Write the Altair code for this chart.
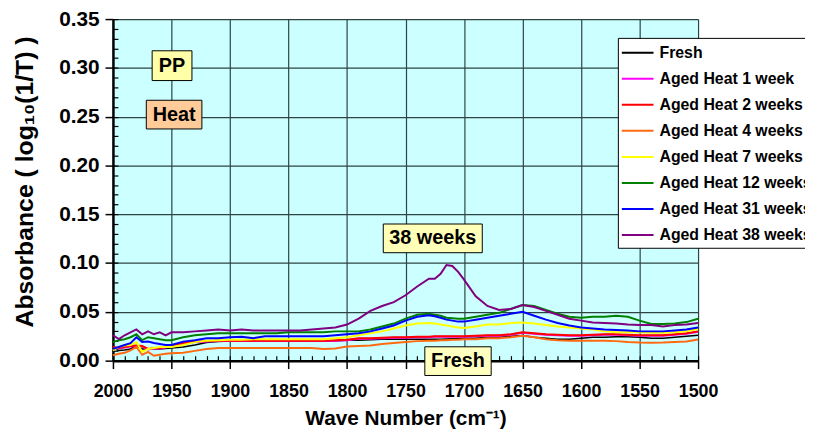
import altair as alt
import pandas as pd

wavenumber = [2000, 1995, 1990, 1985, 1980, 1975, 1970, 1965, 1960, 1955, 1950,
              1940, 1930, 1920, 1910, 1900, 1890, 1880, 1870, 1860, 1850, 1840,
              1830, 1820, 1810, 1800, 1790, 1780, 1770, 1760, 1750, 1740, 1730,
              1725, 1720, 1715, 1710, 1705, 1700,
              1690, 1680, 1670, 1660, 1650, 1640, 1630, 1620, 1610, 1600, 1590,
              1580, 1570, 1560, 1550, 1540, 1530, 1520, 1510, 1500]

fresh = [0.013, 0.0105, 0.011, 0.012, 0.0155, 0.012, 0.012, 0.012, 0.012, 0.0125, 0.013,
         0.014, 0.016, 0.0185, 0.0195, 0.020, 0.0198, 0.020, 0.020, 0.020, 0.020, 0.020,
         0.020, 0.020, 0.0205, 0.021, 0.021, 0.0215, 0.022, 0.022, 0.022, 0.022, 0.022,
         0.022, 0.022, 0.0222, 0.0225, 0.0228, 0.023,
         0.023, 0.024, 0.024, 0.025, 0.0257, 0.024, 0.023, 0.022, 0.022, 0.023, 0.024,
         0.024, 0.0245, 0.0245, 0.024, 0.023, 0.023, 0.024, 0.025, 0.026]

heat_1w = [0.0135, 0.0125, 0.0135, 0.0145, 0.015, 0.0145, 0.0115, 0.0125, 0.0125, 0.0135, 0.015,
           0.0175, 0.019, 0.0195, 0.020, 0.020, 0.020, 0.020, 0.020, 0.020, 0.020, 0.020,
           0.020, 0.020, 0.0205, 0.021, 0.0225, 0.0225, 0.023, 0.0235, 0.0235, 0.024, 0.024,
           0.0245, 0.0245, 0.0245, 0.0245, 0.0245, 0.0245,
           0.025, 0.0255, 0.0255, 0.0265, 0.0285, 0.0275, 0.0265, 0.026, 0.0255, 0.0255, 0.026,
           0.0265, 0.0265, 0.026, 0.0255, 0.0255, 0.0255, 0.0265, 0.0275, 0.0295]

heat_2w = [0.014, 0.013, 0.014, 0.015, 0.0155, 0.015, 0.012, 0.013, 0.013, 0.014, 0.0155,
           0.018, 0.0195, 0.020, 0.0205, 0.0205, 0.0205, 0.0205, 0.0205, 0.0205, 0.0205, 0.0205,
           0.0205, 0.0205, 0.021, 0.0215, 0.023, 0.023, 0.0235, 0.024, 0.024, 0.0245, 0.0245,
           0.025, 0.025, 0.025, 0.025, 0.025, 0.025,
           0.0255, 0.026, 0.026, 0.027, 0.029, 0.028, 0.027, 0.0265, 0.026, 0.026, 0.0265,
           0.027, 0.027, 0.0265, 0.026, 0.026, 0.026, 0.027, 0.028, 0.030]

heat_4w = [0.0055, 0.007, 0.008, 0.0105, 0.014, 0.006, 0.009, 0.005, 0.006, 0.007, 0.0075,
           0.008, 0.010, 0.012, 0.013, 0.013, 0.013, 0.013, 0.013, 0.013, 0.013, 0.013,
           0.013, 0.012, 0.0125, 0.0145, 0.015, 0.0155, 0.017, 0.018, 0.019, 0.020, 0.0205,
           0.0205, 0.021, 0.021, 0.0215, 0.0215, 0.022,
           0.022, 0.023, 0.023, 0.024, 0.0255, 0.024, 0.022, 0.021, 0.0205, 0.0205, 0.0205,
           0.0205, 0.020, 0.019, 0.0185, 0.0183, 0.0185, 0.019, 0.0196, 0.0216]

heat_7w = [0.0105, 0.014, 0.0155, 0.016, 0.019, 0.009, 0.012, 0.013, 0.014, 0.014, 0.014,
           0.016, 0.019, 0.0205, 0.021, 0.0215, 0.0215, 0.022, 0.022, 0.022, 0.022, 0.022,
           0.022, 0.022, 0.023, 0.024, 0.026, 0.028, 0.030, 0.033, 0.036, 0.038, 0.0385,
           0.038, 0.037, 0.036, 0.035, 0.034, 0.0335,
           0.035, 0.037, 0.037, 0.0385, 0.039, 0.038, 0.0365, 0.035, 0.034, 0.033, 0.032,
           0.030, 0.029, 0.029, 0.029, 0.0285, 0.0285, 0.029, 0.030, 0.0325]

heat_12w = [0.019, 0.021, 0.022, 0.024, 0.027, 0.021, 0.024, 0.023, 0.022, 0.021, 0.021,
            0.024, 0.026, 0.027, 0.028, 0.028, 0.028, 0.028, 0.028, 0.028, 0.029, 0.029,
            0.029, 0.029, 0.030, 0.030, 0.030, 0.032, 0.035, 0.038, 0.043, 0.047, 0.048,
            0.047, 0.046, 0.044, 0.0435, 0.043, 0.043,
            0.045, 0.047, 0.049, 0.053, 0.057, 0.056, 0.052, 0.048, 0.045, 0.044, 0.045,
            0.045, 0.046, 0.045, 0.041, 0.0375, 0.0375, 0.038, 0.0395, 0.043]

heat_31w = [0.012, 0.014, 0.016, 0.018, 0.024, 0.019, 0.0195, 0.018, 0.017, 0.016, 0.016,
            0.0195, 0.021, 0.023, 0.023, 0.024, 0.0245, 0.023, 0.025, 0.025, 0.025, 0.025,
            0.025, 0.025, 0.026, 0.027, 0.028, 0.030, 0.033, 0.036, 0.041, 0.045, 0.0465,
            0.0455, 0.044, 0.042, 0.041, 0.040, 0.040,
            0.042, 0.044, 0.046, 0.048, 0.050, 0.046, 0.042, 0.0385, 0.036, 0.034, 0.033,
            0.032, 0.0315, 0.031, 0.030, 0.030, 0.030, 0.031, 0.032, 0.034]

heat_38w = [0.026, 0.022, 0.026, 0.029, 0.032, 0.027, 0.030, 0.027, 0.029, 0.026, 0.029,
            0.029, 0.030, 0.031, 0.032, 0.031, 0.032, 0.031, 0.031, 0.031, 0.031, 0.031,
            0.032, 0.033, 0.034, 0.037, 0.043, 0.051, 0.056, 0.060, 0.067, 0.076, 0.084,
            0.084, 0.089, 0.098, 0.097, 0.091, 0.083,
            0.066, 0.056, 0.052, 0.053, 0.057, 0.055, 0.051, 0.047, 0.043, 0.041, 0.039,
            0.0385, 0.038, 0.037, 0.0365, 0.0365, 0.035, 0.0365, 0.037, 0.0385]

series_names = ["Fresh", "Aged Heat 1 week", "Aged Heat 2 weeks", "Aged Heat 4 weeks",
                "Aged Heat 7 weeks", "Aged Heat 12 weeks", "Aged Heat 31 weeks",
                "Aged Heat 38 weeks"]
series_values = [fresh, heat_1w, heat_2w, heat_4w, heat_7w, heat_12w, heat_31w, heat_38w]
series_colors = ["#000000", "#FF00FF", "#FF0000", "#FF6A10", "#FFFF00", "#008000",
                 "#0000FF", "#800080"]

major_x = [2000, 1950, 1900, 1850, 1800, 1750, 1700, 1650, 1600, 1550, 1500]
minor_x = list(range(2000, 1499, -10))
major_y = [0.0, 0.05, 0.10, 0.15, 0.20, 0.25, 0.30, 0.35]
minor_y = [i / 100 for i in range(36)]

box_labels = ["PP", "Heat", "38 weeks", "Fresh"]
box_x1 = [1966.5, 1971.5, 1769.0, 1733.5]
box_x2 = [1932.5, 1924.0, 1684.4, 1676.8]
box_y1 = [0.3175, 0.2668, 0.1400, 0.0142]
box_y2 = [0.2870, 0.2374, 0.1106, -0.0152]
box_fill = ["#FFFFA8", "#FFCC99", "#FFFFB8", "#FFFFC0"]

rows = []
for name, vals in zip(series_names, series_values):
    for w, v in zip(wavenumber, vals):
        rows.append({"series": name, "wavenumber": w, "absorbance": v})
df = pd.DataFrame(rows)

ann = pd.DataFrame({
    "label": box_labels, "x1": box_x1, "x2": box_x2, "y1": box_y1, "y2": box_y2,
    "fill": box_fill,
})
ann["xc"] = (ann["x1"] + ann["x2"]) / 2
ann["yc"] = (ann["y1"] + ann["y2"]) / 2

FONT = "Liberation Sans"
xscale = alt.Scale(domain=[2000, 1500], nice=False, zero=False)
yscale = alt.Scale(domain=[0, 0.35], nice=False, zero=False)
GRID = "#2c4444"

x_major = alt.Axis(values=major_x, format="d", labelFont=FONT,
                   labelFontSize=18, labelFontWeight="bold", labelColor="black",
                   labelPadding=14, labelFlush=False, labelOverlap=False,
                   tickSize=8, tickColor="black", tickWidth=1.5,
                   domainColor="black", domainWidth=2.5,
                   grid=True, gridColor=GRID, gridWidth=1.2,
                   title="Wave Number (cm⁻¹)", titleFont=FONT, titleFontSize=21,
                   titleFontWeight="bold", titleColor="black", titlePadding=7,
                   orient="bottom")
y_major = alt.Axis(values=major_y, format=".2f", labelFont=FONT,
                   labelFontSize=21, labelFontWeight="bold", labelColor="black",
                   labelPadding=6, labelFlush=False, labelOverlap=False,
                   tickSize=8, tickColor="black", tickWidth=1.5,
                   domainColor="black", domainWidth=2.5,
                   grid=True, gridColor=GRID, gridWidth=1.2,
                   title="Absorbance ( log₁₀(1/T) )", titleFont=FONT, titleFontSize=25,
                   titleFontWeight="bold", titleColor="black", titlePadding=21,
                   titleY=164, orient="left")
x_minor = alt.Axis(values=minor_x, labels=False, domain=False, grid=False, title=None,
                   tickSize=5, tickColor="black", tickWidth=1.2, offset=-5, orient="bottom")
y_minor = alt.Axis(values=minor_y, labels=False, domain=False, grid=False, title=None,
                   tickSize=5, tickColor="black", tickWidth=1.2, offset=-5, orient="left")

legend = alt.Legend(orient="none", legendX=510, legendY=19, title=None,
                    labelFont=FONT, labelFontSize=16, labelFontWeight="bold",
                    labelColor="black", labelLimit=400, labelOffset=11,
                    symbolType="M-1.6,0L1.6,0", symbolSize=400, symbolStrokeWidth=2,
                    symbolOffset=5, rowPadding=7.3, padding=4,
                    strokeColor="black", fillColor="white", cornerRadius=0)

lines = alt.Chart(df).mark_line().encode(
    x=alt.X("wavenumber:Q", scale=xscale, axis=x_major),
    y=alt.Y("absorbance:Q", scale=yscale, axis=y_major),
    color=alt.Color("series:N", scale=alt.Scale(domain=series_names, range=series_colors),
                    legend=legend, sort=series_names),
    strokeWidth=alt.condition(alt.datum.series == "Fresh", alt.value(1.5), alt.value(2)),
)

minor = alt.Chart(df).mark_line(opacity=0).encode(
    x=alt.X("wavenumber:Q", scale=xscale, axis=x_minor),
    y=alt.Y("absorbance:Q", scale=yscale, axis=y_minor),
)

boxes = alt.Chart(ann).mark_rect(stroke="black", strokeWidth=1, clip=False).encode(
    x=alt.X("x1:Q", scale=xscale, axis=None),
    x2="x2:Q",
    y=alt.Y("y1:Q", scale=yscale, axis=None),
    y2="y2:Q",
    fill=alt.Fill("fill:N", scale=None),
)

texts = alt.Chart(ann).mark_text(font=FONT, fontSize=20, fontWeight="bold", color="black",
                                 align="center", baseline="middle").encode(
    x=alt.X("xc:Q", scale=xscale, axis=None),
    y=alt.Y("yc:Q", scale=yscale, axis=None),
    text="label:N",
)

chart = alt.layer(minor, lines, boxes, texts).resolve_axis(
    x="independent", y="independent"
).properties(
    width=591, height=345,
    autosize=alt.AutoSizeParams(type="none"),
    padding={"left": 106, "top": 9, "right": 108, "bottom": 81},
).configure_view(fill="#CCFFFF", stroke=None)

chart.save("out.html", embed_options={"renderer": "svg", "actions": False})
